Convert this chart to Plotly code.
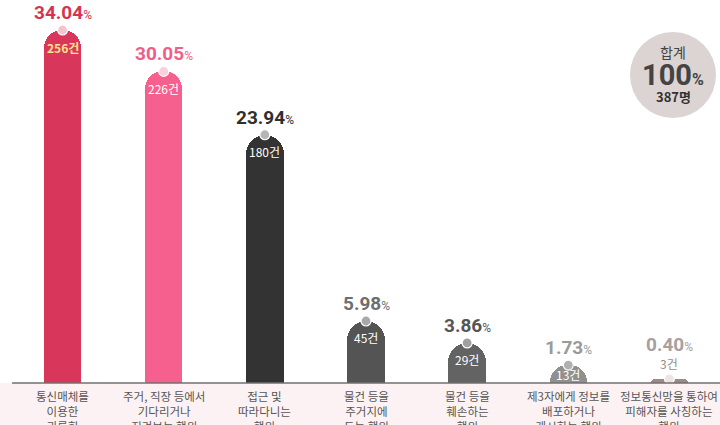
import plotly.graph_objects as go

categories = [
    "통신매체를<br>이용한<br>괴롭힘",
    "주거, 직장 등에서<br>기다리거나<br>지켜보는 행위",
    "접근 및<br>따라다니는<br>행위",
    "물건 등을<br>주거지에<br>두는 행위",
    "물건 등을<br>훼손하는<br>행위",
    "제3자에게 정보를<br>배포하거나<br>게시하는 행위",
    "정보통신망을 통하여<br>피해자를 사칭하는<br>행위",
]
percents = [34.04, 30.05, 23.94, 5.98, 3.86, 1.73, 0.40]
counts = [256, 226, 180, 45, 29, 13, 3]
total_label = "합계"
total_percent = "100"
total_count = 387

bar_colors = ["#d8365a", "#f5608e", "#333333", "#545454", "#636363", "#909090", "#9c8a8a"]
dot_colors = ["#f6c3cd", "#f9cfdc", "#b5b5b5", "#a8a8a8", "#a0a0a0", "#b0b0b0", "#eee4e4"]
pct_colors = ["#d63350", "#ef5e8b", "#2f2f2f", "#6e6e6e", "#555555", "#9a9a9a", "#a8a0a0"]
count_colors = ["#ffe38a", "#ffffff", "#ffffff", "#ffffff", "#ffffff", "#ffffff", "#ffffff"]

FONT = "Noto Sans CJK KR"
xs = list(range(len(categories)))

fig = go.Figure()
fig.add_trace(go.Bar(
    x=xs, y=percents, width=0.37,
    marker=dict(color=bar_colors, cornerradius="50%", line=dict(width=0)),
    hoverinfo="skip", showlegend=False,
))
fig.add_trace(go.Scatter(
    x=xs, y=percents, mode="markers",
    marker=dict(size=10, color=dot_colors, line=dict(color="#ffffff", width=1.2)),
    hoverinfo="skip", showlegend=False,
))

ymax = 34.04 * 383 / 353
px_per = 383 / ymax
annotations = []
for i, (p, c) in enumerate(zip(percents, counts)):
    h = p * px_per
    pct_shift = 4
    if h > 26:
        annotations.append(dict(
            x=i, y=p, xref="x", yref="y", yanchor="middle", yshift=-17, showarrow=False,
            text=(f"<b>{c}건</b>" if i == 0 else f"{c}건"),
            font=dict(family=FONT, size=12, color=count_colors[i]),
        ))
    elif h > 14:
        annotations.append(dict(
            x=i, y=0, xref="x", yref="y", yanchor="middle", yshift=h / 2, showarrow=False,
            text=f"{c}건",
            font=dict(family=FONT, size=12, color=count_colors[i]),
        ))
    else:
        annotations.append(dict(
            x=i, y=p, xref="x", yref="y", yanchor="bottom", yshift=5, showarrow=False,
            text=f"{c}건",
            font=dict(family=FONT, size=12, color=bar_colors[i]),
        ))
        pct_shift = 21
    annotations.append(dict(
        x=i, y=p, xref="x", yref="y", yanchor="bottom", yshift=pct_shift, showarrow=False,
        text=f"<b>{p:.2f}</b><span style='font-size:12px'>%</span>",
        font=dict(family="Roboto", size=19, color=pct_colors[i]),
    ))
    annotations.append(dict(
        x=i, y=0, xref="x", yref="paper", xanchor="center", yanchor="top", yshift=-3,
        showarrow=False, text=categories[i], align="center",
        font=dict(family=FONT, size=11.5, color="#555555"),
    ))

# total circle
cx, cy = (673 - 12) / 708, (383 - 75) / 383
rx, ry = 43 / 708, 43 / 383
annotations += [
    dict(x=cx, y=cy, xref="paper", yref="paper", xanchor="center", yanchor="middle",
         yshift=23, showarrow=False,
         text=total_label, font=dict(family=FONT, size=14, color="#444444")),
    dict(x=cx, y=cy, xref="paper", yref="paper", xanchor="center", yanchor="middle",
         yshift=0, showarrow=False,
         text=f"<b>{total_percent}</b><span style='font-size:16px'><b>%</b></span>",
         font=dict(family="Roboto", size=29, color="#444444")),
    dict(x=cx, y=cy, xref="paper", yref="paper", xanchor="center", yanchor="middle",
         yshift=-22, showarrow=False,
         text=f"<b>{total_count}명</b>", font=dict(family=FONT, size=13, color="#333333")),
]

shapes = [
    dict(type="rect", xref="paper", yref="paper", x0=-0.02, x1=1.0, y0=-0.2, y1=0,
         fillcolor="#fdf2f3", line=dict(width=0), layer="below"),
    dict(type="line", xref="paper", yref="paper", x0=0, x1=1, y0=0, y1=0,
         line=dict(color="#707070", width=1.5), layer="above"),
    dict(type="circle", xref="paper", yref="paper", x0=cx - rx, x1=cx + rx, y0=cy - ry, y1=cy + ry,
         fillcolor="#dcd3d3", line=dict(width=0), layer="below"),
]

fig.update_layout(
    width=720, height=425,
    margin=dict(l=12, r=0, t=0, b=42),
    paper_bgcolor="#ffffff", plot_bgcolor="rgba(0,0,0,0)",
    xaxis=dict(range=[-0.5, 6.5], visible=False, fixedrange=True),
    yaxis=dict(range=[0, ymax], visible=False, fixedrange=True),
    annotations=annotations, shapes=shapes,
    bargap=0,
)
fig.write_html(
    "out.html",
    config={"displayModeBar": False},
    post_script="document.body.style.margin='0';document.body.style.overflow='hidden';",
)
